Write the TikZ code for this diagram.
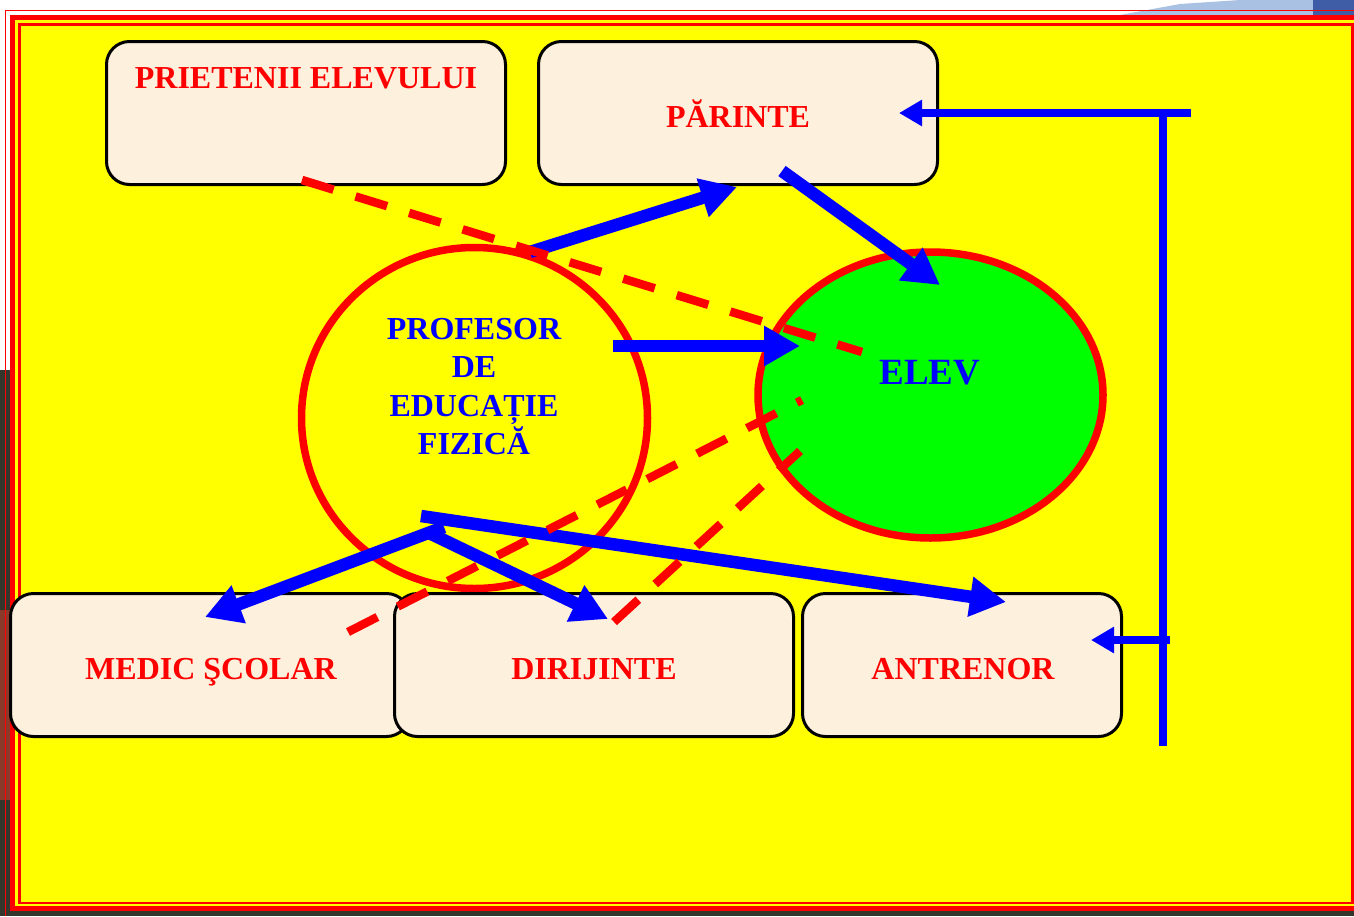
\documentclass[tikz,border=0pt]{standalone}
\usepackage{fontspec}
\setmainfont{Liberation Serif}
\usetikzlibrary{arrows.meta,shapes.geometric}
\definecolor{paper}{HTML}{FDF0DC}
\definecolor{skyA}{HTML}{A9C1E2}
\definecolor{skyB}{HTML}{3F5CA6}
\definecolor{trackred}{HTML}{8A3A2A}
\definecolor{darkbg}{HTML}{33362C}
\definecolor{sunny}{RGB}{255,255,0}
\definecolor{pureblue}{RGB}{0,0,255}
\definecolor{purered}{RGB}{255,0,0}
\definecolor{puregreen}{RGB}{0,255,0}
\tikzset{
  box/.style={draw=black,line width=3pt,fill=paper,rounded corners=23pt,rectangle,minimum width=399pt,minimum height=143pt,inner sep=0pt,outer sep=0pt},
  roundel/.style={draw=purered,line width=7.5pt,ellipse,inner sep=0pt,outer sep=0pt},
  redlabel/.style={text=purered,font=\fontsize{32}{32}\selectfont\bfseries,inner sep=0pt,anchor=base},
  bluelabel/.style={text=pureblue,font=\fontsize{32}{32}\selectfont\bfseries,inner sep=0pt,anchor=base},
  bigarrow/.style={draw=pureblue,line width=12.5pt,-{Triangle[length=36pt,width=38pt]}},
  smallarrow/.style={draw=pureblue,line width=8pt,-{Triangle[length=23pt,width=25pt]}},
  plainbar/.style={draw=pureblue,line width=8pt},
  reddash/.style={draw=purered,line width=8.5pt,dash pattern=on 33pt off 23pt}
}
\begin{document}
\begin{tikzpicture}[x=1pt,y=-1pt]
\useasboundingbox (0,0) rectangle (1354,916);
% surroundings
\fill[white] (0,0) rectangle (1354,916);
\fill[skyA] (1120,15) -- (1180,4) -- (1240,0) -- (1354,0) -- (1354,15) -- cycle;
\fill[skyB] (1313,0) rectangle (1354,15);
\fill[darkbg] (0,370) rectangle (10,610);
\fill[trackred] (0,610) rectangle (10,800);
\fill[darkbg] (0,800) rectangle (10,916);
\fill[darkbg] (0,911) rectangle (1354,916);
% frame
\draw[purered,line width=1.6pt] (5.5,916) -- (5.5,10.5) -- (1354,10.5);
\fill[purered] (10,15) rectangle (1354,911);
\fill[sunny] (15,20) rectangle (1354,906);
\fill[purered] (18,23) rectangle (1354,904);
\fill[sunny] (21,26) rectangle (1351,902);
% circles
\node[roundel,fill=sunny,minimum width=346pt,minimum height=341pt] (prof) at (474.5,418) {};
\node[roundel,fill=puregreen,minimum width=345pt,minimum height=286pt] (elev) at (930.5,395) {};
% boxes
\node[box] (prieteni) at (306,113) {};
\node[box] (parinte) at (738,113) {};
\node[box] (medic) at (210,665) {};
\node[box] (dirig) at (594,665) {};
\node[box,minimum width=319pt] (antren) at (962,665) {};
% labels
\node[redlabel] (tA) at (306,88.5) {PRIETENII ELEVULUI};
\node[redlabel] (tB) at (738,127) {PĂRINTE};
\node[redlabel] (tC) at (211,679) {MEDIC ŞCOLAR};
\node[redlabel] (tD) at (594,679) {DIRIJINTE};
\node[redlabel] (tE) at (963,679) {ANTRENOR};
\node[bluelabel] (tF) at (474,339) {PROFESOR};
\node[bluelabel] (tG) at (474,377) {DE};
\node[bluelabel] (tH) at (474,416) {EDUCAȚIE};
\node[bluelabel] (tI) at (474,454) {FIZICĂ};
\node[bluelabel,font=\fontsize{37}{37}\selectfont\bfseries] (tJ) at (930,384) {ELEV};
% connector ends
\coordinate (a1) at (530,252); \coordinate (a2) at (737,187);
\coordinate (b1) at (782,171); \coordinate (b2) at (940,285);
\coordinate (c1) at (613,346); \coordinate (c2) at (800,346);
\coordinate (d1) at (421,516); \coordinate (d2) at (1006,602);
\coordinate (e1) at (444,527); \coordinate (e2) at (205,617);
\coordinate (f1) at (427,532); \coordinate (f2) at (608,619);
\coordinate (g1) at (1191,113); \coordinate (g2) at (899,113);
\coordinate (h2) at (1163,746); \coordinate (h1) at (1163,109);
\coordinate (i1) at (1170,640); \coordinate (i2) at (1091,640);
\coordinate (r1) at (302,180); \coordinate (r2) at (862,352);
\coordinate (s1) at (348,632); \coordinate (s2) at (802,400);
\coordinate (t1) at (614,622); \coordinate (t2) at (800,451);
% blue connectors
\draw[bigarrow] (a1) -- (a2);
\draw[bigarrow] (b1) -- (b2);
\draw[bigarrow] (c1) -- (c2);
\draw[bigarrow] (d1) -- (d2);
\draw[bigarrow] (e1) -- (e2);
\draw[bigarrow] (f1) -- (f2);
\draw[smallarrow] (g1) -- (g2);
\draw[plainbar] (h1) -- (h2);
\draw[smallarrow] (i1) -- (i2);
% red dashed connectors
\draw[reddash] (r1) -- (r2);
\draw[reddash] (s1) -- (s2);
\draw[reddash] (t1) -- (t2);
\end{tikzpicture}
\end{document}
